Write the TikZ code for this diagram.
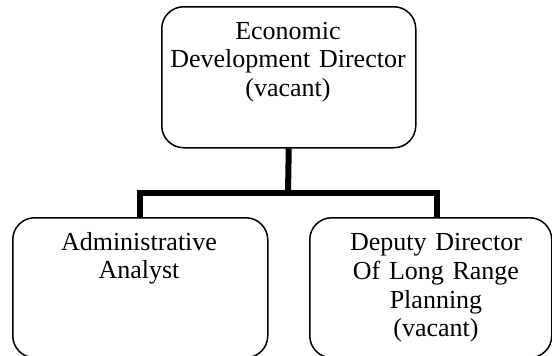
\documentclass[tikz,border=0pt]{standalone}
\usepackage{fontspec}
\setmainfont{Liberation Serif}
\begin{document}
\begin{tikzpicture}[x=1pt,y=-1pt,
  box/.style={draw, line width=1.5pt, rounded corners=22pt, inner sep=0pt, anchor=north west},
  conn/.style={line width=6pt},
  lbl/.style={font=\fontsize{26}{28.8}\selectfont, align=center, text width=260pt, inner sep=0pt, anchor=base}]
\useasboundingbox (0,0) rectangle (552,356);
\clip (0,0) rectangle (552,356);
\node[box, minimum width=254pt, minimum height=141pt] (top) at (161,6) {};
\node[box, minimum width=255pt, minimum height=140pt] (lbox) at (12,217) {};
\node[box, minimum width=242pt, minimum height=140pt] (rbox) at (309,217) {};
\node[lbl] (toptext) at (288,39) {Economic\\Development Director\\(vacant)};
\node[lbl] (ltext) at (139,250) {Administrative\\Analyst};
\node[lbl] (rtext) at (436,250.5) {Deputy Director\\Of Long Range\\Planning\\(vacant)};
\coordinate (bar) at (288,193);
\coordinate (lj) at (140,193);
\coordinate (rj) at (437,193);
\draw[conn] (top.south) -- (bar);
\draw[conn] (lj |- lbox.north) -- (lj) -- (rj) -- (rj |- rbox.north);
\end{tikzpicture}
\end{document}
